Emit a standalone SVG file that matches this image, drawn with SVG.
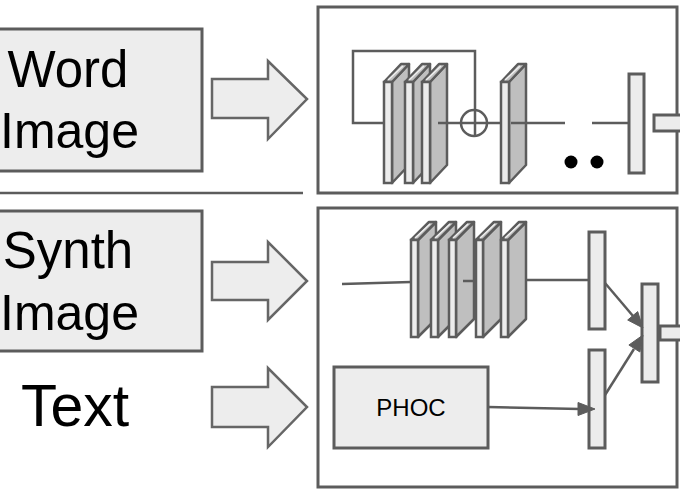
<svg xmlns="http://www.w3.org/2000/svg" width="680" height="500" viewBox="0 0 680 500">
<style>
.box{fill:#ededed;stroke:#5c5c5c;stroke-width:3}
.frame{fill:none;stroke:#5c5c5c;stroke-width:3}
.blk{fill:#ededed;stroke:#666;stroke-width:2.5;stroke-linejoin:miter}
.ln{stroke:#5c5c5c;stroke-width:2.5;fill:none}
.side{fill:#bfbfbf;stroke:#5c5c5c;stroke-width:2.5;stroke-linejoin:round}
.front{fill:#ececec;stroke:#5c5c5c;stroke-width:2.5}
.bar{fill:#ececec;stroke:#5c5c5c;stroke-width:3}
.head{fill:#5c5c5c;stroke:#5c5c5c;stroke-width:1}
.lbl{font-family:"Liberation Sans",Arial,sans-serif;fill:#000;text-anchor:middle}
</style>
<defs>
<g id="slabT">
<path class="side" d="M8,0 L25,-18 L25,83 L8,101 Z"/>
<path class="side" d="M0,0 L17,-18 L25,-18 L8,0 Z"/>
<path d="M4,-2 L19,-16" stroke="#eee" stroke-width="1.5"/>
<rect class="front" x="0" y="0" width="8" height="101"/>
</g>
<g id="slabB">
<path class="side" d="M7,0 L25,-18 L25,79 L7,97 Z"/>
<path class="side" d="M0,0 L18,-18 L25,-18 L7,0 Z"/>
<path d="M4,-2 L19,-16" stroke="#eee" stroke-width="1.5"/>
<rect class="front" x="0" y="0" width="7" height="97"/>
</g>
</defs>

<g id="word-image">
<rect class="box" x="-5" y="29" width="207" height="142"/>
<text class="lbl" x="68" y="87" font-size="51">Word</text>
<text class="lbl" x="69.5" y="148" font-size="50">Image</text>
</g>
<line class="ln" x1="0" y1="193" x2="303" y2="193" stroke-width="3"/>
<g id="synth-image">
<rect class="box" x="-5" y="211" width="207" height="140"/>
<text class="lbl" x="68" y="268" font-size="51">Synth</text>
<text class="lbl" x="69.5" y="330" font-size="50">Image</text>
</g>
<g id="text">
<text class="lbl" x="75" y="426" font-size="59">Text</text>
</g>

<g id="block-arrows">
<polygon class="blk" points="212,79 268,79 268,61 307,99 268,139 268,118 212,118"/>
<polygon class="blk" points="212,262 268,262 268,242 307,281 268,320 268,300 212,300"/>
<polygon class="blk" points="212,387 268,387 268,368 307,407 268,447 268,427 212,427"/>
</g>

<g id="word-net">
<rect class="frame" x="318" y="7" width="359" height="186"/>
<path class="ln" d="M384,123 L353,123 L353,51 L475,51 L475,136"/>
<use href="#slabT" x="384" y="82"/>
<use href="#slabT" x="405" y="82"/>
<use href="#slabT" x="422" y="82"/>
<line class="ln" x1="438" y1="123" x2="501" y2="123"/>
<circle cx="474" cy="123" r="13" fill="none" stroke="#5c5c5c" stroke-width="2.5"/>
<use href="#slabT" x="501" y="82"/>
<line class="ln" x1="511" y1="123" x2="565" y2="123"/>
<line class="ln" x1="592" y1="123" x2="630" y2="123"/>
<circle cx="571" cy="162" r="6.5" fill="#000"/>
<circle cx="597" cy="162" r="6.5" fill="#000"/>
<rect class="bar" x="629" y="74" width="15" height="99"/>
<rect class="bar" x="654" y="115" width="30" height="16"/>
</g>

<g id="synth-net">
<rect class="frame" x="318" y="208" width="359" height="279"/>
<line class="ln" x1="342" y1="284" x2="411" y2="282"/>
<use href="#slabB" x="411" y="240"/>
<use href="#slabB" x="431" y="240"/>
<use href="#slabB" x="449" y="240"/>
<line class="ln" x1="463" y1="281" x2="477" y2="281"/>
<use href="#slabB" x="476" y="240"/>
<use href="#slabB" x="501" y="240"/>
<line class="ln" x1="527" y1="280" x2="590" y2="280"/>
<rect class="bar" x="589" y="232" width="16" height="97"/>
<rect class="bar" x="589" y="350" width="16" height="98"/>
<rect class="bar" x="642" y="284" width="16" height="98"/>
<rect class="bar" x="660" y="326" width="24" height="14"/>
</g>

<g id="phoc">
<rect class="box" x="334" y="367" width="154" height="81"/>
<text class="lbl" x="411" y="416" font-size="24" fill="#222">PHOC</text>
</g>

<g id="connectors">
<line class="ln" x1="488" y1="407" x2="580" y2="409"/>
<polygon class="head" points="595,409 578,402.5 578,415.5"/>
<line class="ln" x1="605" y1="283" x2="633" y2="316"/>
<polygon class="head" points="643,328 627.7,320 637.7,311.6"/>
<line class="ln" x1="605" y1="395" x2="634" y2="349"/>
<polygon class="head" points="643,335 639.9,352 628.9,345"/>
</g>
</svg>
